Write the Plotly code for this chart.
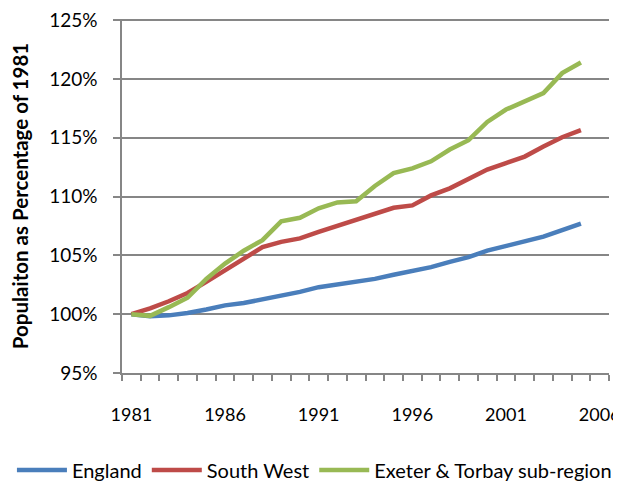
import plotly.graph_objects as go

years = list(range(1981, 2006))
england = [100.0, 99.83, 99.9, 100.1, 100.4, 100.75, 100.95, 101.25, 101.55, 101.9,
           102.3, 102.55, 102.75, 103.0, 103.35, 103.7, 104.0, 104.45, 104.85, 105.4,
           105.8, 106.15, 106.6, 107.15, 107.7]
south_west = [100.0, 100.5, 101.1, 101.8, 102.75, 103.75, 104.7, 105.7, 106.15, 106.45,
              107.0, 107.5, 108.05, 108.55, 109.05, 109.25, 110.1, 110.7, 111.5, 112.3,
              112.85, 113.4, 114.25, 115.05, 115.65]
exeter_torbay = [100.0, 99.86, 100.6, 101.4, 103.0, 104.3, 105.4, 106.3, 107.9, 108.2,
                 109.0, 109.5, 109.6, 110.9, 112.0, 112.4, 113.0, 114.0, 114.8, 116.35,
                 117.4, 118.05, 118.8, 120.5, 121.4]
tick_years = [1981, 1986, 1991, 1996, 2001, 2006]
y_ticks = [95, 100, 105, 110, 115, 120, 125]

FONT = "Lato"
GRID = "#868686"

fig = go.Figure()
for name, vals, color in [("England", england, "#4A7EBB"),
                          ("South West", south_west, "#BE4B48"),
                          ("Exeter & Torbay sub-region", exeter_torbay, "#98B954")]:
    fig.add_trace(go.Scatter(x=years, y=vals, mode="lines", name=name,
                             line=dict(color=color, width=4.5)))

# page body has an 8px default margin, so the figure is sized to fit inside it
fig.update_layout(
    width=613, height=475,
    margin=dict(l=114, r=12, t=11, b=110, autoexpand=False),
    plot_bgcolor="white", paper_bgcolor="white",
    font=dict(family=FONT, size=19, color="#000000"),
    showlegend=True,
    legend=dict(orientation="h", xref="paper", yref="paper",
                x=-0.226, xanchor="left", y=-0.274, yanchor="middle",
                font=dict(family=FONT, size=20), itemwidth=50,
                tracegroupgap=0, bgcolor="rgba(0,0,0,0)"),
)
fig.update_xaxes(
    range=[1980.5, 2006.5], tickvals=tick_years, ticktext=[str(t) for t in tick_years],
    ticks="", showgrid=False, showline=True, linecolor=GRID, linewidth=1.5,
    ticklabelstandoff=25, zeroline=False, automargin=False,
    ticklabeloverflow="allow", tickfont=dict(size=18),
    minor=dict(ticks="outside", tick0=1980.5, dtick=1, ticklen=6,
               tickcolor=GRID, tickwidth=1.5, showgrid=False),
)
fig.update_yaxes(
    range=[95, 125.1], tickvals=y_ticks, ticktext=[f"{v}%" for v in y_ticks],
    ticks="outside", ticklen=7, tickcolor=GRID, tickwidth=1.5,
    showgrid=True, gridcolor=GRID, gridwidth=1.5,
    showline=True, linecolor=GRID, linewidth=1.5, zeroline=False,
    ticklabelstandoff=12, automargin=False, ticklabeloverflow="allow",
    title=dict(text="<b>Populaiton as Percentage of 1981</b>",
               font=dict(family=FONT, size=20.5), standoff=24),
)

fig.write_html(
    "out.html",
    post_script="document.documentElement.style.overflow='hidden';"
                "document.body.style.overflow='hidden';",
)
